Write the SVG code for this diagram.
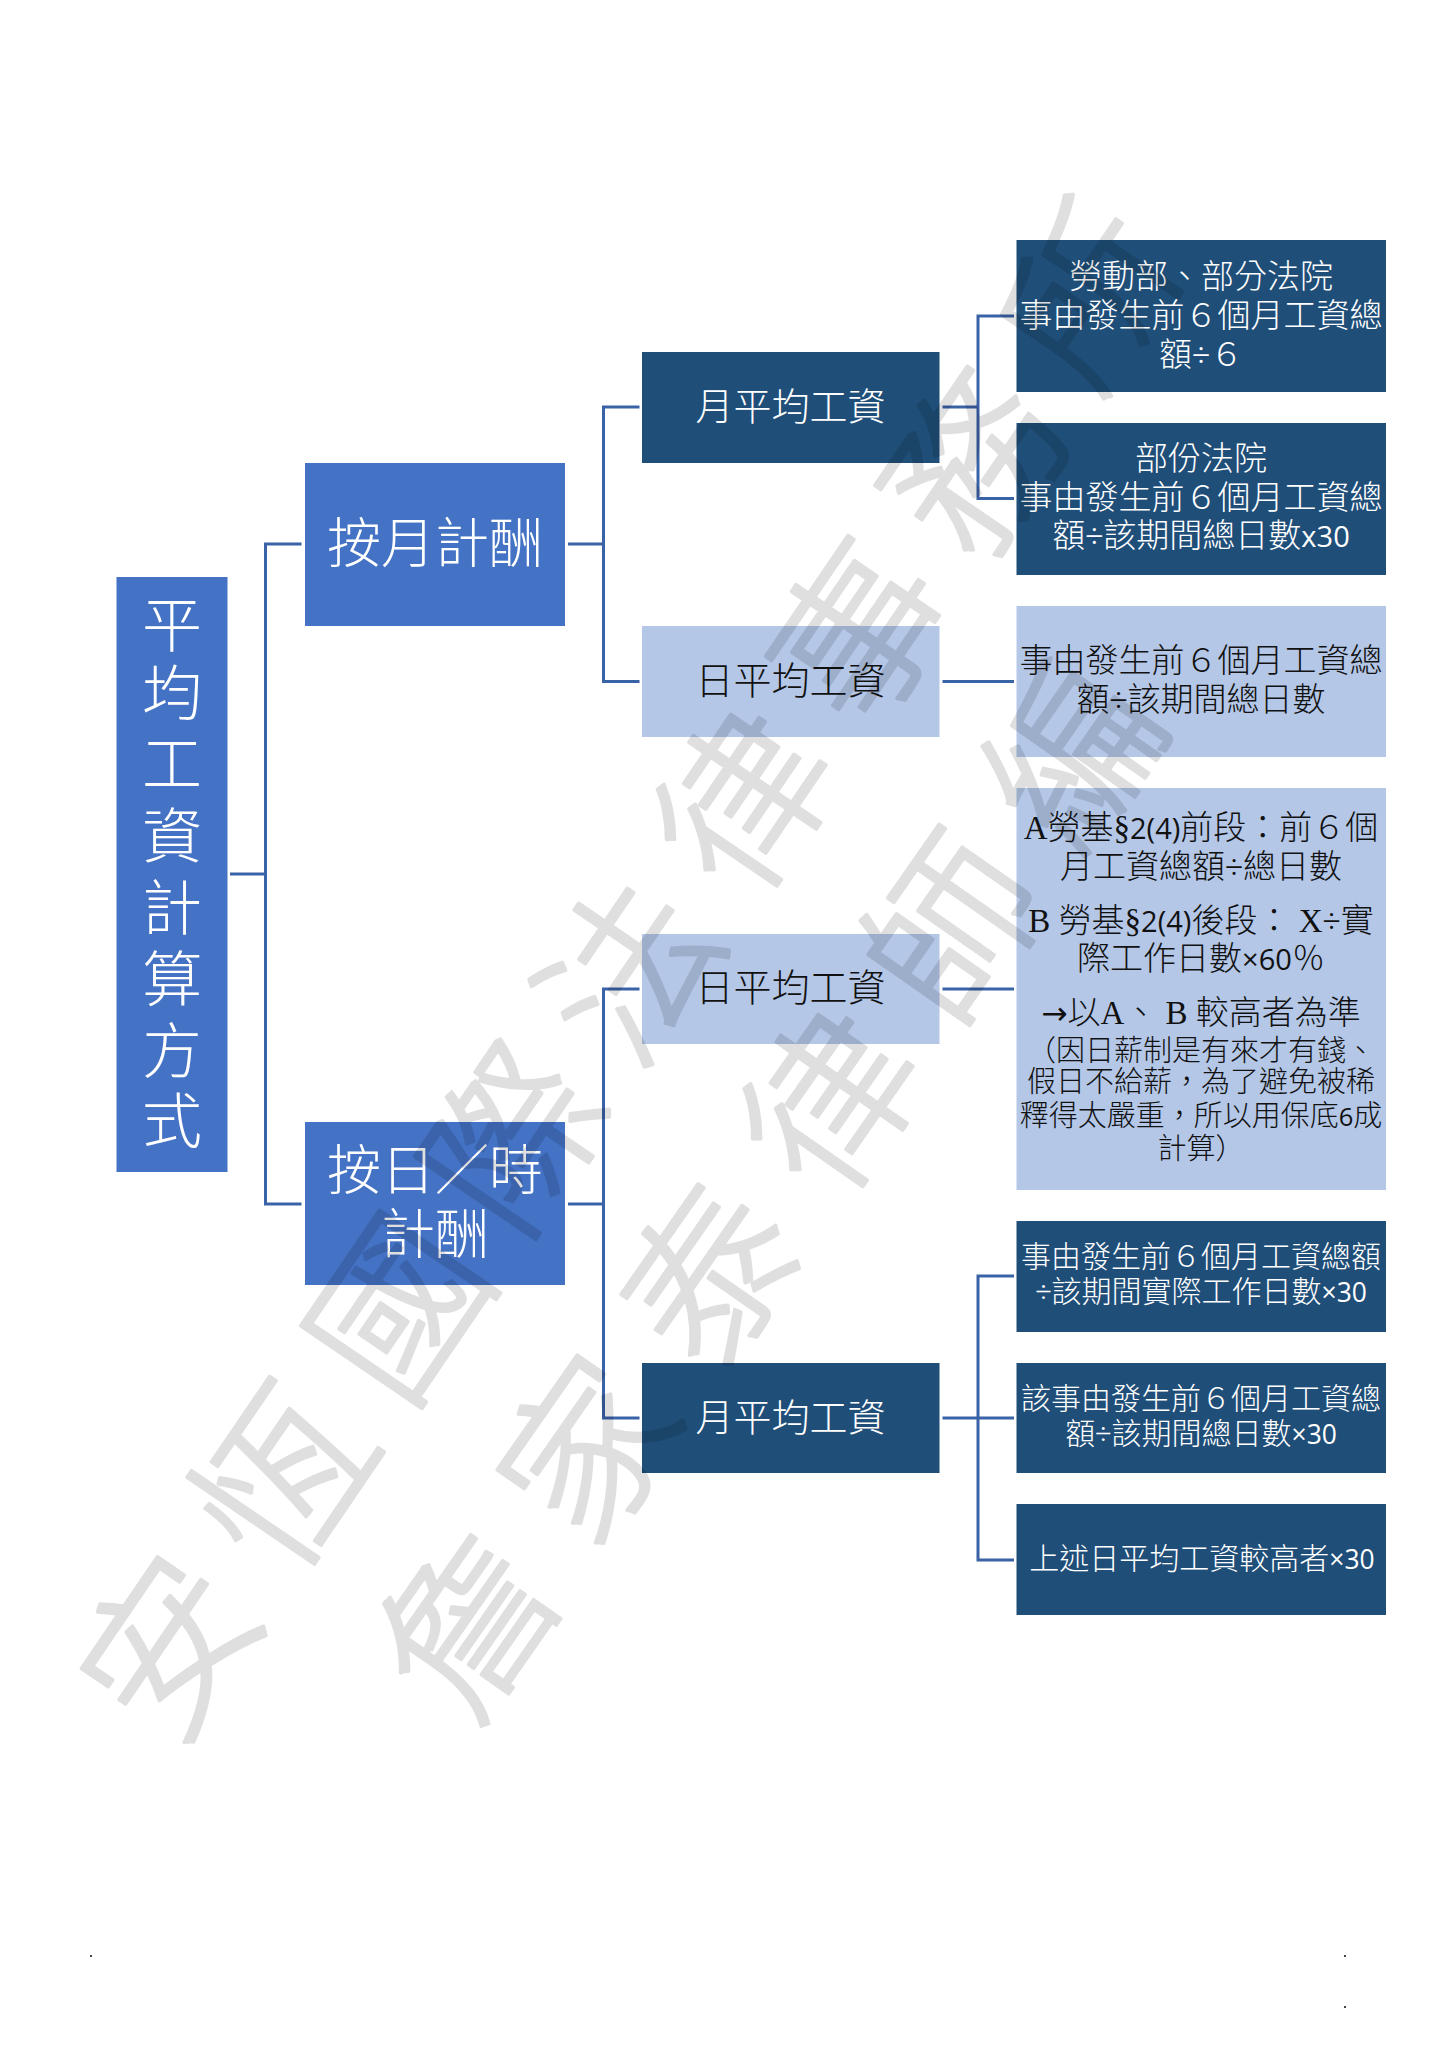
<svg xmlns="http://www.w3.org/2000/svg" width="1450" height="2048" viewBox="0 0 1450 2048" lang="zh-Hant">
<style>
text{font-family:"Liberation Serif","Noto Sans CJK TC",serif;font-weight:300;text-anchor:middle}
.w{fill:#fff}.k{fill:#111}
.m{font-family:"Open Sans","Noto Sans",sans-serif;font-weight:400;font-size:.88em}
.arrow{font-family:"DejaVu Sans",sans-serif;font-weight:400;font-size:.95em}
.blue{fill:#4472C4}.navy{fill:#1F4E79}.pale{fill:#B4C7E7}
.f33{font-size:33px}.f30{font-size:30px}.f29{font-size:29px}.f38{font-size:38px}.f54{font-size:54px}
#connectors path{fill:none;stroke:#3A62A6;stroke-width:3}
#watermark{opacity:.12}
#watermark text{font-family:"Noto Sans CJK TC",sans-serif;font-weight:300;font-size:170px;fill:#000;stroke:#000;stroke-width:3.500;stroke-linejoin:round;text-anchor:start}
</style>
<rect width="1450" height="2048" fill="#fff"/>
<g id="connectors">
<path d="M230 874H265.500M301.500 544H265.500V1204H301.500"/>
<path d="M568 544H603.500M639.500 407H603.500V681.500H639.500"/>
<path d="M568 1204H603.500M639.500 989H603.500V1418H639.500"/>
<path d="M942.500 407H978M1014 316H978V498.500H1014"/>
<path d="M942.500 681.500H1014"/>
<path d="M942.500 989H1014"/>
<path d="M942.500 1418H1014M1014 1276H978V1560H1014"/>
</g>
<g id="root"><rect class="blue" x="116.500" y="577" width="111" height="595"/>
<text class="w" font-size="60"><tspan x="172" y="647">平</tspan><tspan x="172" y="715">均</tspan><tspan x="172" y="786">工</tspan><tspan x="172" y="858">資</tspan><tspan x="172" y="930">計</tspan><tspan x="172" y="1001">算</tspan><tspan x="172" y="1073">方</tspan><tspan x="172" y="1143">式</tspan></text></g>
<g id="n-month"><rect class="blue" x="305" y="463" width="260" height="163"/>
<text class="w f54" x="435" y="563">按月計酬</text></g>
<g id="n-day"><rect class="blue" x="305" y="1122" width="260" height="163"/>
<text class="w f54"><tspan x="435" y="1190">按日／時</tspan><tspan x="435" y="1254">計酬</tspan></text></g>
<g id="a1"><rect class="navy" x="642" y="352" width="297.500" height="111"/>
<text class="w f38" x="790.500" y="420">月平均工資</text></g>
<g id="a2"><rect class="pale" x="642" y="626" width="297.500" height="111"/>
<text class="k f38" x="790.500" y="694">日平均工資</text></g>
<g id="b1"><rect class="pale" x="642" y="934" width="297.500" height="110"/>
<text class="k f38" x="790.500" y="1001">日平均工資</text></g>
<g id="b2"><rect class="navy" x="642" y="1363" width="297.500" height="110"/>
<text class="w f38" x="790.500" y="1430.500">月平均工資</text></g>
<g id="c1"><rect class="navy" x="1016.500" y="240" width="369.500" height="152"/>
<text class="w f33"><tspan x="1201" y="287.500">勞動部、部分法院</tspan><tspan x="1201" y="326.500">事由發生前６個月工資總</tspan><tspan x="1201" y="365.500">額÷６</tspan></text></g>
<g id="c2"><rect class="navy" x="1016.500" y="423" width="369.500" height="152"/>
<text class="w f33"><tspan x="1201" y="470">部份法院</tspan><tspan x="1201" y="509">事由發生前６個月工資總</tspan><tspan x="1201" y="546.500">額÷該期間總日數<tspan class="m">x30</tspan></tspan></text></g>
<g id="c3"><rect class="pale" x="1016.500" y="606" width="369.500" height="151"/>
<text class="k f33"><tspan x="1201" y="671.500">事由發生前６個月工資總</tspan><tspan x="1201" y="710.500">額÷該期間總日數</tspan></text></g>
<g id="d1"><rect class="pale" x="1016.500" y="788" width="369.500" height="402"/>
<text class="k f33"><tspan x="1201" y="839">A勞基§<tspan class="m">2(4)</tspan>前段：前６個</tspan><tspan x="1201" y="878">月工資總額÷總日數</tspan><tspan x="1201" y="932">B 勞基§<tspan class="m">2(4)</tspan>後段： X÷實</tspan><tspan x="1201" y="970">際工作日數<tspan class="m">×60</tspan>％</tspan><tspan x="1201" y="1024"><tspan class="arrow">→</tspan>以A、 B 較高者為準</tspan></text>
<text class="k f29"><tspan x="1201" y="1061">（因日薪制是有來才有錢、</tspan><tspan x="1201" y="1092">假日不給薪，為了避免被稀</tspan><tspan x="1201" y="1126">釋得太嚴重，所以用保底<tspan class="m">6</tspan>成</tspan><tspan x="1201" y="1159">計算）</tspan></text></g>
<g id="e1"><rect class="navy" x="1016.500" y="1221" width="369.500" height="111"/>
<text class="w f30"><tspan x="1201" y="1267">事由發生前６個月工資總額</tspan><tspan x="1201" y="1302">÷該期間實際工作日數<tspan class="m">×30</tspan></tspan></text></g>
<g id="e2"><rect class="navy" x="1016.500" y="1363" width="369.500" height="110"/>
<text class="w f30"><tspan x="1201" y="1409">該事由發生前６個月工資總</tspan><tspan x="1201" y="1443.500">額÷該期間總日數<tspan class="m">×30</tspan></tspan></text></g>
<g id="e3"><rect class="navy" x="1016.500" y="1504" width="369.500" height="111"/>
<text class="w f30" x="1202" y="1569">上述日平均工資較高者<tspan class="m">×30</tspan></text></g>
<g id="watermark">
<text transform="translate(167 1645) rotate(-55.700)" x="-85" y="64" letter-spacing="34.500">安恆國際法律事務所</text>
<text transform="translate(466 1622) rotate(-55.100)" x="-85" y="64" letter-spacing="42">詹家泰律師編</text>
</g>
<g id="specks" fill="#444"><rect x="90" y="1955" width="2" height="2"/><rect x="1344" y="1955" width="2" height="2"/><rect x="1344" y="2006" width="2" height="2"/></g>
</svg>
